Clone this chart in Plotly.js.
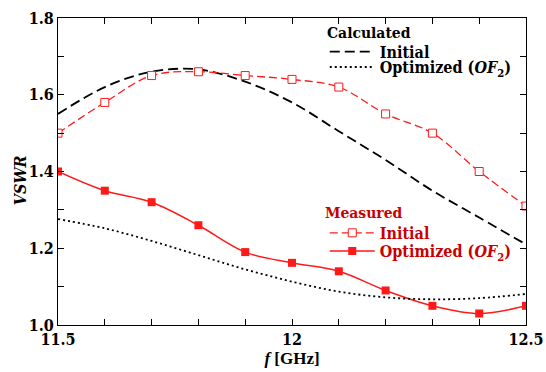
<!DOCTYPE html>
<html><head><meta charset="utf-8">
<script src="https://cdn.plot.ly/plotly-3.0.1.min.js"></script>
<style>body{margin:0;background:#fff}#c{width:546px;height:372px}</style>
</head><body><div id="c"></div>
<script>
const freq = [11.5, 11.6, 11.7, 11.8, 11.9, 12.0, 12.1, 12.2, 12.3, 12.4, 12.5];
const calcInitial = [1.55, 1.62, 1.66, 1.666, 1.634, 1.58, 1.505, 1.43, 1.35, 1.28, 1.21];
const calcOptimized = [1.276, 1.252, 1.219, 1.182, 1.145, 1.113, 1.087, 1.072, 1.067, 1.07, 1.081];
const measInitial = [1.50, 1.58, 1.65, 1.66, 1.65, 1.64, 1.62, 1.55, 1.50, 1.40, 1.31];
const measOptimized = [1.40, 1.35, 1.32, 1.26, 1.19, 1.162, 1.14, 1.09, 1.05, 1.03, 1.05];
const xTicks = [11.5, 12, 12.5];
const xTickText = ['11.5', '12', '12.5'];
const yTicks = [1.0, 1.2, 1.4, 1.6, 1.8];
const yTickText = ['1.0', '1.2', '1.4', '1.6', '1.8'];

const RED = '#ff1a1a';
const TXTRED = '#c80000';

const traces = [
  {x: freq, y: calcInitial, mode: 'lines', name: '<b>Initial</b>', legend: 'legend',
   line: {color: '#000', width: 1.8, dash: '10px,5px', shape: 'spline'}},
  {x: freq, y: calcOptimized, mode: 'lines', name: '<b>Optimized (<i>OF</i><sub>2</sub>)</b>', legend: 'legend3',
   xaxis: 'x2', yaxis: 'y2',
   line: {color: '#000', width: 1.8, dash: '2px,3px', shape: 'spline'}},
  {x: freq, y: measInitial, mode: 'lines+markers', name: '<b>Initial</b>', legend: 'legend2',
   line: {color: RED, width: 1.3, dash: '8px,4px', shape: 'spline'},
   marker: {symbol: 'square', size: 8, color: '#fff', line: {color: RED, width: 1}}},
  {x: freq, y: measOptimized, mode: 'lines+markers', name: '<b>Optimized (<i>OF</i><sub>2</sub>)</b>', legend: 'legend4',
   line: {color: RED, width: 1.5, shape: 'spline'},
   marker: {symbol: 'square', size: 8, color: RED}}
];

const F1 = 'DejaVu Serif Condensed';
const tickfont = {family: F1, size: 16, color: '#000', weight: 'bold'};
const minorX = {dtick: 0.1, tick0: 11.5, ticks: 'inside', ticklen: 6, tickcolor: '#000', showgrid: false};
const minorY = {dtick: 0.1, tick0: 1.0, ticks: 'inside', ticklen: 6, tickcolor: '#000', showgrid: false};
const legBase = {xanchor: 'left', yanchor: 'middle', bgcolor: 'rgba(0,0,0,0)', borderwidth: 0,
  itemwidth: 45, tracegroupgap: 0, x: 0.57};

const layout = {
  width: 546, height: 372,
  margin: {l: 58, r: 20, t: 18, b: 47, autoexpand: false},
  paper_bgcolor: '#fff', plot_bgcolor: 'rgba(0,0,0,0)',
  font: {family: F1, color: '#000', size: 16},
  showlegend: true,
  xaxis: {
    range: [11.5, 12.5], tickvals: xTicks, ticktext: xTickText,
    ticks: 'inside', ticklen: 6, tickcolor: '#000', showgrid: false, zeroline: false,
    showline: true, linecolor: '#000', linewidth: 1, mirror: true,
    tickfont: tickfont, minor: minorX,
    title: {text: '<b><i>f</i> [GHz]</b>', font: {family: 'serif', size: 17}, standoff: 2}
  },
  yaxis: {
    range: [1.0, 1.8], tickvals: yTicks, ticktext: yTickText,
    ticks: 'inside', ticklen: 6, tickcolor: '#000', showgrid: false, zeroline: false,
    showline: true, linecolor: '#000', linewidth: 1, mirror: true,
    tickfont: tickfont, minor: minorY
  },
  xaxis2: {
    overlaying: 'x', side: 'top', anchor: 'y2', range: [11.5, 12.5], tickvals: xTicks,
    showticklabels: false, ticks: 'inside', ticklen: 6, tickcolor: '#000',
    showgrid: false, zeroline: false, showline: false, minor: minorX
  },
  yaxis2: {
    overlaying: 'y', side: 'right', anchor: 'x2', range: [1.0, 1.8], tickvals: yTicks,
    showticklabels: false, ticks: 'inside', ticklen: 6, tickcolor: '#000',
    showgrid: false, zeroline: false, showline: false, minor: minorY
  },
  legend: Object.assign({}, legBase, {y: 0.890, font: {family: F1, size: 16, color: '#000'}}),
  legend3: Object.assign({}, legBase, {y: 0.840, font: {family: F1, size: 16, color: '#000'}}),
  legend2: Object.assign({}, legBase, {y: 0.300, font: {family: F1, size: 16, color: TXTRED}}),
  legend4: Object.assign({}, legBase, {y: 0.241, font: {family: F1, size: 16, color: TXTRED}}),
  annotations: [
    {text: '<b>Calculated</b>', xref: 'paper', yref: 'paper', x: 0.57, y: 0.954,
     xanchor: 'left', yanchor: 'middle', showarrow: false, font: {family: F1, size: 15.5, color: '#000'}},
    {text: '<b>Measured</b>', xref: 'paper', yref: 'paper', x: 0.5656, y: 0.365,
     xanchor: 'left', yanchor: 'middle', showarrow: false, font: {family: F1, size: 15.5, color: TXTRED}},
    {text: '<b><i>VSWR</i></b>', xref: 'paper', yref: 'paper', x: -0.081, y: 0.472,
     xanchor: 'center', yanchor: 'middle', textangle: -90, showarrow: false,
     font: {family: F1, size: 16, color: '#000'}}
  ]
};

Plotly.newPlot('c', traces, layout, {displayModeBar: false, staticPlot: true});
</script>
</body></html>
